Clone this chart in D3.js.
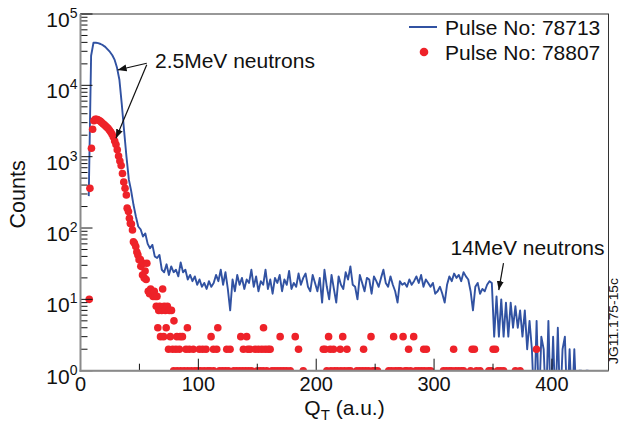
<!DOCTYPE html>
<html>
<head>
<meta charset="utf-8">
<script src="https://cdn.jsdelivr.net/npm/d3@7"></script>
<style>
  body { margin: 0; background: #fff; }
  svg { display: block; }
  text { font-family: "Liberation Sans", Arial, Helvetica, sans-serif; fill: #111; }
</style>
</head>
<body>
<svg id="chart" width="622" height="426"></svg>
<script>
// ---- data -------------------------------------------------------------
const xTicks = [0, 100, 200, 300, 400];
const xMinorTicks = [50, 150, 250, 350];
const yDecades = [0, 1, 2, 3, 4, 5];

// Pulse 78713: histogram counts, first bin centre at Q = 7, bin width 2
const pulse78713Start = 7;
const pulse78713Step = 2;
const pulse78713Counts = [
  280, 26000, 39500, 39600, 39000, 38000, 36600, 34600, 31900, 29400,
  26400, 22700, 17600, 12000, 5500, 2300, 1000, 480, 330, 210,
  145, 105, 96, 76, 84, 60, 52, 58, 40, 38,
  42, 26, 24, 31, 22, 29, 24, 26, 21, 33,
  24, 26, 19, 22, 18, 21, 16, 19, 15, 17,
  14, 18, 15, 17, 22, 18, 26, 16, 24, 14,
  7, 19, 13, 22, 16, 20, 14, 19, 17, 26,
  15, 21, 13, 18, 16, 26, 14, 19, 12, 20,
  17, 22, 13, 19, 16, 25, 14, 17, 15, 23,
  16, 20, 23, 15, 13, 22, 17, 13, 20, 9,
  26, 15, 10, 22, 14, 9, 21, 16, 14, 24,
  19, 29, 16, 15, 10, 22, 17, 13, 20, 19,
  12, 21, 18, 15, 20, 26, 17, 15, 21, 16,
  13, 9, 18, 16, 17, 15, 19, 16, 18, 21,
  17, 22, 15, 19, 17, 15, 17, 12, 13, 15,
  12, 9, 16, 21, 18, 23, 20, 22, 18, 24,
  21, 19, 13, 7, 15, 17, 12, 14, 13, 16,
  18, 17, 3, 11, 3, 10, 3, 9, 3, 9,
  4, 8, 4, 7, 3, 7, 2, 5, 2, 0,
  5, 0, 3, 2, 0, 5, 0, 3, 0, 4,
  0, 2, 3, 0, 2, 0, 2, 0, 1, 1,
  0, 1, 1
];

// Pulse 78807: [Q, counts] for the non-empty bins
const pulse78807Points = [
  [7.4,10],[8.0,360],[9.3,1310],[10.3,2420],[11.4,3190],[12.5,3330],[13.6,3340],[14.7,3290],
  [15.8,3220],[16.9,3130],[18.0,3020],[19.1,2900],[20.2,2800],[21.3,2690],[22.4,2590],[23.5,2480],
  [24.6,2350],[25.7,2220],[26.8,2060],[27.9,1880],[29.0,1660],[30.1,1480],[31.2,1250],[32.3,1020],
  [33.4,870],[34.5,750],[35.6,580],[36.7,440],[37.8,360],[38.9,290],[39.6,190],[40.7,170],
  [41.5,137],[42.3,116],[43.2,114],[44.1,94],[44.9,64],[45.8,61],[46.9,55],[47.8,46],
  [48.7,42],[49.7,36],[50.8,36],[51.2,29],[52.6,22],[53.3,32],[54.1,20],[54.8,25],
  [55.7,19],[56.3,32],[57.5,13],[58.6,12],[59.5,14],[60.4,13],[61.6,11],[62.6,13],
  [63.5,11],[64.3,8],[64.9,11],[65.6,4],[66.4,7],[67.2,8],[67.9,3],[68.9,7],
  [69.7,14],[70.5,3],[71.0,8],[72.0,7],[72.7,4],[73.7,8],[74.7,2],[75.4,7],
  [76.2,3],[77.2,7],[78.2,2],[79.3,5],[81.0,2],[81.8,3],[83.9,2],[84.5,3],
  [86.5,3],[89.5,2],[90.7,4],[92.3,2],[95.7,2],[100.9,2],[103.7,2],[106.5,2],
  [110.8,3],[112.8,2],[115.6,2],[116.5,4],[124.1,2],[126.9,2],[136.0,3],[138.2,2],
  [141.0,3],[142.0,2],[143.9,2],[148.2,2],[151.0,2],[153.9,2],[155.3,4],[156.7,2],
  [159.2,2],[160.9,2],[169.4,3],[182.2,3],[185.0,2],[206.0,2],[207.6,2],[210.5,3],
  [211.9,2],[214.7,2],[220.4,2],[222.5,3],[226.1,2],[240.2,2],[246.5,3],[265.7,3],
  [273.7,3],[278.4,2],[282.7,3],[291.2,2],[293.5,2],[316.6,2],[332.3,2],[334.2,2],
  [350.1,2],[352.1,2],[386.9,2],
  [79,1],[82,1],[85,1],[88,1],[91,1],[94,1],[97,1],[99.5,1],[102,1],[105,1],
  [108,1],[110,1],[113,1],[118,1],[120.5,1],[123,1],[125.5,1],[130,1],[132.5,1],[135,1],
  [137.5,1],[140,1],[142.5,1],[145,1],[150,1],[152.5,1],[155,1],[158,1],[162.5,1],[165,1],
  [167.5,1],[170,1],[172.5,1],[175,1],[178,1],[189,1],[209,1],[212.5,1],[215.5,1],[218,1],
  [221,1],[224,1],[227,1],[229,1],[234.5,1],[237,1],[239.5,1],[242,1],[244.5,1],[248,1],
  [250,1],[252,1],[261.5,1],[264,1],[267,1],[269.5,1],[271.5,1],[275.5,1],[277,1],[280,1],
  [284.5,1],[287,1],[289.5,1],[292,1],[295,1],[297,1],[308,1],[310.5,1],[313,1],[315,1],
  [318,1],[320.5,1],[323,1],[325,1],[331,1],[336,1],[339,1],[346.5,1],[348.5,1],[354,1],
  [356.5,1],[359,1],[369,1],[373,1]
];

const seriesNames = ["Pulse No: 78713", "Pulse No: 78807"];

// Annotation text anchors and arrow ends, in (Q, counts)
const annotations = [
  { text: "2.5MeV neutrons", at: [63.2, 17500],
    arrows: [ { from: [56.2, 20400], to: [31.5, 16400] },
              { from: [56.2, 19400], to: [30.1, 1810] } ] },
  { text: "14MeV neutrons", at: [313.9, 42],
    arrows: [ { from: [358.9, 32.3], to: [354.9, 13.5] } ] }
];

// ---- layout -----------------------------------------------------------
const plot = { left: 80.5, right: 608.5, top: 14, bottom: 370.7 };
const blue = "#3152a2";
const red = "#ee2229";

const svg = d3.select("#chart");

const x = d3.scaleLinear().domain([0, 448]).range([plot.left, plot.right]);
const y = d3.scaleLog().domain([1, 1e5]).range([plot.bottom, plot.top]);

// clip to the frame
svg.append("defs").append("clipPath").attr("id", "frame")
  .append("rect")
  .attr("x", plot.left).attr("y", plot.top)
  .attr("width", plot.right - plot.left).attr("height", plot.bottom - plot.top);

svg.select("defs").append("marker")
  .attr("id", "head")
  .attr("markerUnits", "userSpaceOnUse")
  .attr("markerWidth", 10).attr("markerHeight", 8)
  .attr("refX", 9).attr("refY", 4)
  .attr("orient", "auto")
  .append("path").attr("d", "M0,0.5 L9,4 L0,7.5 Z").attr("fill", "#111");

const marks = svg.append("g").attr("clip-path", "url(#frame)");

// blue histogram line; empty bins fall below the frame
const bluePts = pulse78713Counts.map((c, i) => [pulse78713Start + i * pulse78713Step, c]);
const line = d3.line()
  .x(d => x(d[0]))
  .y(d => d[1] > 0 ? y(d[1]) : y(0.3));
marks.append("path")
  .datum(bluePts)
  .attr("d", line)
  .attr("fill", "none")
  .attr("stroke", blue)
  .attr("stroke-width", 1.9)
  .attr("stroke-linejoin", "round");

// red markers
marks.selectAll("circle.p2")
  .data(pulse78807Points)
  .join("circle")
  .attr("class", "p2")
  .attr("cx", d => x(d[0]))
  .attr("cy", d => y(d[1]))
  .attr("r", 3.8)
  .attr("fill", red);

// frame
svg.append("rect")
  .attr("x", plot.left).attr("y", plot.top)
  .attr("width", plot.right - plot.left).attr("height", plot.bottom - plot.top)
  .attr("fill", "none").attr("stroke", "#333").attr("stroke-width", 1);

// ticks (inward)
const tickG = svg.append("g").attr("stroke", "#111").attr("stroke-width", 1);
xTicks.forEach(t => {
  tickG.append("line").attr("x1", x(t)).attr("x2", x(t))
    .attr("y1", plot.bottom).attr("y2", plot.bottom - 12);
});
xMinorTicks.forEach(t => {
  tickG.append("line").attr("x1", x(t)).attr("x2", x(t))
    .attr("y1", plot.bottom).attr("y2", plot.bottom - 7);
});
yDecades.forEach(p => {
  const v = Math.pow(10, p);
  tickG.append("line").attr("x1", plot.left).attr("x2", plot.left + 12)
    .attr("y1", y(v)).attr("y2", y(v));
  if (p < 5) {
    for (let k = 2; k <= 9; k++) {
      tickG.append("line").attr("x1", plot.left).attr("x2", plot.left + 7)
        .attr("y1", y(k * v)).attr("y2", y(k * v));
    }
  }
});

// left and bottom axis lines
svg.append("line").attr("x1", plot.left).attr("x2", plot.left)
  .attr("y1", plot.top).attr("y2", plot.bottom + 1)
  .attr("stroke", "#8a8a8a").attr("stroke-width", 2);
svg.append("line").attr("x1", plot.left - 1).attr("x2", plot.right)
  .attr("y1", plot.bottom).attr("y2", plot.bottom)
  .attr("stroke", "#8a8a8a").attr("stroke-width", 2);

// tick labels
svg.selectAll("text.xt").data(xTicks).join("text")
  .attr("class", "xt")
  .attr("x", d => x(d)).attr("y", plot.bottom + 20.5)
  .attr("text-anchor", "middle").attr("font-size", 20)
  .text(d => d);

const yl = svg.selectAll("text.yt").data(yDecades).join("text")
  .attr("class", "yt")
  .attr("x", plot.left - 3).attr("y", d => y(Math.pow(10, d)) + 13)
  .attr("text-anchor", "end").attr("font-size", 21);
yl.append("tspan").text("10");
yl.append("tspan").attr("dy", -9).attr("font-size", 14).text(d => d);

// axis titles
const xt = svg.append("text")
  .attr("x", (plot.left + plot.right) / 2).attr("y", 415)
  .attr("text-anchor", "middle").attr("font-size", 21);
xt.append("tspan").text("Q");
xt.append("tspan").attr("dy", 5).attr("font-size", 15).text("T");
xt.append("tspan").attr("dy", -5).text(" (a.u.)");

svg.append("text")
  .attr("transform", `translate(25,${(plot.top + plot.bottom) / 2 + 2}) rotate(-90)`)
  .attr("text-anchor", "middle").attr("font-size", 21.5)
  .text("Counts");

// legend
const lg = svg.append("g");
lg.append("line").attr("x1", 409).attr("x2", 437).attr("y1", 27).attr("y2", 27)
  .attr("stroke", blue).attr("stroke-width", 2);
lg.append("circle").attr("cx", 424).attr("cy", 52).attr("r", 4.3).attr("fill", red);
lg.selectAll("text").data(seriesNames).join("text")
  .attr("x", 445).attr("y", (d, i) => 35 + i * 24.5)
  .attr("font-size", 21)
  .text(d => d);

// annotations
annotations.forEach(a => {
  svg.append("text")
    .attr("x", x(a.at[0])).attr("y", y(a.at[1]))
    .attr("font-size", 21)
    .text(a.text);
  a.arrows.forEach(r => {
    svg.append("line")
      .attr("x1", x(r.from[0])).attr("y1", y(r.from[1]))
      .attr("x2", x(r.to[0])).attr("y2", y(r.to[1]))
      .attr("stroke", "#111").attr("stroke-width", 1.2)
      .attr("marker-end", "url(#head)");
  });
});

// figure reference tag
svg.append("text")
  .attr("transform", "translate(617.5,321) rotate(-90)")
  .attr("text-anchor", "middle").attr("font-size", 12.5)
  .attr("textLength", 86).attr("lengthAdjust", "spacingAndGlyphs")
  .text("JG11.175-15c");
</script>
</body>
</html>
